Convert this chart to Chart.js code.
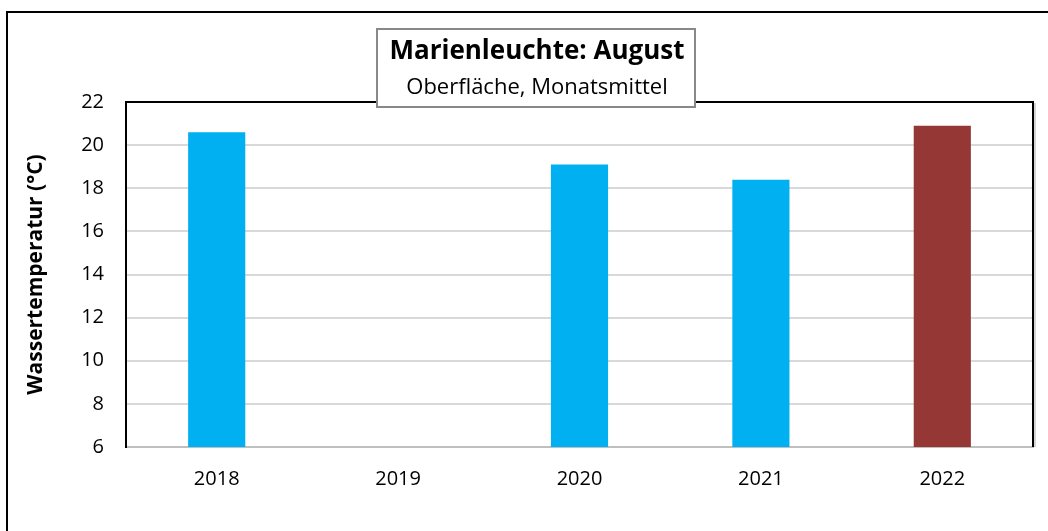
<!DOCTYPE html>
<html lang="de">
<head>
<meta charset="UTF-8">
<title>Marienleuchte: August</title>
<script src="https://cdn.jsdelivr.net/npm/chart.js"></script>
<style>
  html, body { margin: 0; padding: 0; background: #fff; }
  #chart { display: block; }
</style>
</head>
<body>
<canvas id="chart" width="1048" height="531"></canvas>
<script>
// Daten
const jahre = ['2018', '2019', '2020', '2021', '2022'];
const temperaturen = [20.6, null, 19.1, 18.4, 20.9];
const yTicks = [6, 8, 10, 12, 14, 16, 18, 20, 22];

const titel = 'Marienleuchte: August';
const untertitel = 'Oberfläche, Monatsmittel';
const fontName = '"Open Sans", "Liberation Sans", sans-serif';

// Rahmen + Titelbox
const rahmenPlugin = {
  id: 'rahmen',
  afterDraw(chart) {
    const ctx = chart.ctx;
    const a = chart.chartArea;
    ctx.save();
    // aeusserer Rahmen
    ctx.strokeStyle = '#000';
    ctx.lineWidth = 2;
    ctx.beginPath();
    ctx.moveTo(7, 531);
    ctx.lineTo(7, 12);
    ctx.lineTo(1048, 12);
    ctx.stroke();
    // Plotrahmen oben/rechts
    ctx.beginPath();
    ctx.moveTo(a.left, a.top);
    ctx.lineTo(a.right, a.top);
    ctx.lineTo(a.right, a.bottom);
    ctx.stroke();
    ctx.strokeStyle = '#aaa';
    ctx.lineWidth = 1;
    ctx.beginPath();
    ctx.moveTo(a.right + 2, a.top + 1);
    ctx.lineTo(a.right + 2, a.bottom);
    ctx.stroke();
    // Titelbox
    ctx.fillStyle = '#fff';
    ctx.fillRect(377, 29, 318, 78);
    ctx.strokeStyle = '#888';
    ctx.lineWidth = 2;
    ctx.strokeRect(377, 29, 318, 78);
    ctx.fillStyle = '#000';
    ctx.textAlign = 'center';
    ctx.textBaseline = 'middle';
    ctx.font = 'bold 26px ' + fontName;
    ctx.fillText(titel, 537, 52);
    ctx.font = '22px ' + fontName;
    ctx.fillText(untertitel, 537, 88);
    ctx.restore();
  }
};

new Chart(document.getElementById('chart'), {
  type: 'bar',
  data: {
    labels: jahre,
    datasets: [{
      label: 'Wassertemperatur',
      data: temperaturen,
      backgroundColor: ctx => ctx.dataIndex === jahre.length - 1 ? '#953735' : '#00B0F0',
      borderWidth: 0,
      categoryPercentage: 1,
      barPercentage: 0.315
    }]
  },
  options: {
    responsive: false,
    animation: false,
    layout: { padding: { top: 102, right: 15, left: 0, bottom: 0 } },
    plugins: {
      legend: { display: false },
      tooltip: { enabled: false }
    },
    scales: {
      x: {
        grid: { display: false, drawTicks: false },
        border: { color: '#bfbfbf', width: 2 },
        ticks: { color: '#000', padding: 20, font: { family: fontName, size: 20 } },
        afterFit: s => { s.height = 84; }
      },
      y: {
        min: 6,
        max: 22,
        afterBuildTicks: s => { s.ticks = yTicks.map(v => ({ value: v })); },
        grid: { color: '#d9d9d9', lineWidth: 2, drawTicks: false },
        border: { color: '#000', width: 2 },
        ticks: { color: '#000', padding: 22, font: { family: fontName, size: 20 } },
        title: {
          display: true,
          text: 'Wassertemperatur (°C)',
          color: '#000',
          padding: { top: 23, bottom: 0 },
          font: { family: fontName, size: 21, weight: 'bold' }
        },
        afterFit: s => { s.width = 126; }
      }
    }
  },
  plugins: [rahmenPlugin]
});
</script>
</body>
</html>
